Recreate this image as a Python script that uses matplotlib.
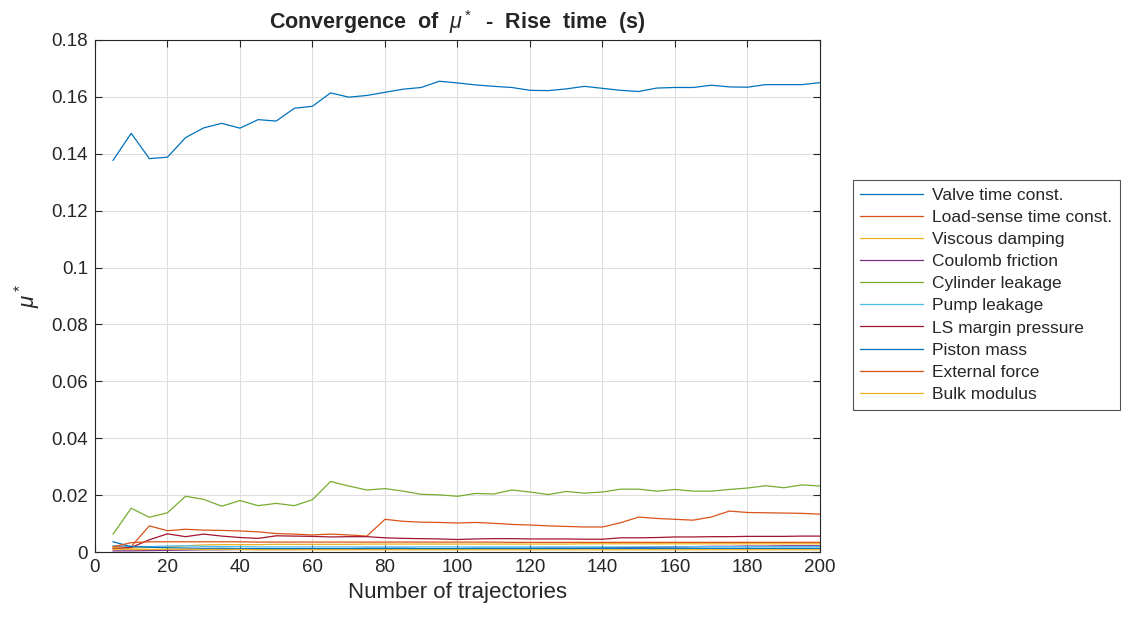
import matplotlib
matplotlib.use("Agg")
import matplotlib.pyplot as plt

plt.rcParams['font.family'] = ['Liberation Sans', 'DejaVu Sans']
plt.rcParams['mathtext.fontset'] = 'custom'
plt.rcParams['mathtext.it'] = 'Liberation Sans:italic'
plt.rcParams['mathtext.rm'] = 'Liberation Sans'
plt.rcParams['mathtext.bf'] = 'Liberation Sans:bold'

n_traj = list(range(5, 205, 5))

valve_time_const = [0.1377, 0.1472, 0.1383, 0.1388, 0.1457, 0.1491, 0.1507, 0.1490, 0.1520, 0.1515,
                    0.1560, 0.1567, 0.1614, 0.1599, 0.1605, 0.1616, 0.1627, 0.1633, 0.1655, 0.1649,
                    0.1642, 0.1637, 0.1633, 0.1623, 0.1622, 0.1628, 0.1637, 0.1630, 0.1623, 0.1619,
                    0.1631, 0.1633, 0.1633, 0.1641, 0.1635, 0.1634, 0.1643, 0.1643, 0.1643, 0.1650]
load_sense_time_const = [0.0021, 0.0019, 0.0092, 0.0075, 0.0080, 0.0077, 0.0076, 0.0074, 0.0071, 0.0065,
                         0.0063, 0.0060, 0.0063, 0.0060, 0.0056, 0.0115, 0.0108, 0.0105, 0.0104, 0.0102,
                         0.0104, 0.0101, 0.0097, 0.0095, 0.0092, 0.0090, 0.0088, 0.0088, 0.0103, 0.0123,
                         0.0118, 0.0115, 0.0112, 0.0123, 0.0144, 0.0139, 0.0138, 0.0137, 0.0136, 0.0133]
viscous_damping = [0.0015, 0.0014, 0.0016, 0.0018, 0.0022, 0.0025, 0.0026, 0.0026, 0.0026, 0.0027,
                   0.0027, 0.0027, 0.0027, 0.0027, 0.0028, 0.0028, 0.0028, 0.0028, 0.0028, 0.0028,
                   0.0028, 0.0028, 0.0028, 0.0028, 0.0028, 0.0028, 0.0029, 0.0029, 0.0029, 0.0029,
                   0.0029, 0.0029, 0.0029, 0.0029, 0.0029, 0.0029, 0.0029, 0.0029, 0.0029, 0.0029]
coulomb_friction = [0.0004, 0.0004, 0.0005, 0.0006, 0.0007, 0.0008, 0.0008, 0.0009, 0.0009, 0.0009,
                    0.0009, 0.0010, 0.0010, 0.0010, 0.0010, 0.0010, 0.0011, 0.0011, 0.0011, 0.0011,
                    0.0012, 0.0012, 0.0012, 0.0012, 0.0013, 0.0013, 0.0013, 0.0014, 0.0015, 0.0016,
                    0.0017, 0.0018, 0.0019, 0.0020, 0.0020, 0.0021, 0.0021, 0.0022, 0.0022, 0.0022]
cylinder_leakage = [0.0063, 0.0154, 0.0122, 0.0138, 0.0196, 0.0185, 0.0161, 0.0181, 0.0163, 0.0171,
                    0.0163, 0.0184, 0.0248, 0.0232, 0.0218, 0.0223, 0.0214, 0.0203, 0.0201, 0.0196,
                    0.0206, 0.0204, 0.0218, 0.0211, 0.0202, 0.0213, 0.0207, 0.0211, 0.0221, 0.0221,
                    0.0214, 0.0220, 0.0214, 0.0214, 0.0220, 0.0225, 0.0233, 0.0226, 0.0236, 0.0232]
pump_leakage = [0.0022, 0.0020, 0.0019, 0.0021, 0.0022, 0.0020, 0.0019, 0.0019, 0.0018, 0.0018,
                0.0018, 0.0018, 0.0018, 0.0018, 0.0018, 0.0018, 0.0018, 0.0018, 0.0018, 0.0018,
                0.0018, 0.0018, 0.0018, 0.0018, 0.0018, 0.0018, 0.0018, 0.0018, 0.0018, 0.0018,
                0.0018, 0.0018, 0.0019, 0.0019, 0.0019, 0.0019, 0.0019, 0.0019, 0.0019, 0.0019]
ls_margin_pressure = [0.0012, 0.0016, 0.0043, 0.0064, 0.0054, 0.0063, 0.0056, 0.0051, 0.0048, 0.0057,
                      0.0056, 0.0055, 0.0053, 0.0054, 0.0054, 0.0050, 0.0048, 0.0047, 0.0046, 0.0044,
                      0.0046, 0.0047, 0.0047, 0.0046, 0.0046, 0.0046, 0.0045, 0.0045, 0.0050, 0.0050,
                      0.0051, 0.0053, 0.0053, 0.0054, 0.0054, 0.0055, 0.0055, 0.0055, 0.0056, 0.0056]
piston_mass = [0.0036, 0.0019, 0.0017, 0.0015, 0.0014, 0.0013, 0.0013, 0.0012, 0.0012, 0.0012,
               0.0012, 0.0012, 0.0012, 0.0012, 0.0013, 0.0013, 0.0013, 0.0012, 0.0012, 0.0012,
               0.0013, 0.0013, 0.0013, 0.0013, 0.0013, 0.0013, 0.0013, 0.0013, 0.0013, 0.0013,
               0.0013, 0.0013, 0.0013, 0.0013, 0.0013, 0.0013, 0.0013, 0.0013, 0.0013, 0.0013]
external_force = [0.0018, 0.0033, 0.0036, 0.0036, 0.0036, 0.0036, 0.0036, 0.0036, 0.0035, 0.0035,
                  0.0035, 0.0035, 0.0035, 0.0035, 0.0035, 0.0035, 0.0035, 0.0035, 0.0035, 0.0035,
                  0.0035, 0.0035, 0.0034, 0.0034, 0.0034, 0.0034, 0.0034, 0.0034, 0.0034, 0.0034,
                  0.0034, 0.0034, 0.0034, 0.0034, 0.0034, 0.0034, 0.0034, 0.0034, 0.0034, 0.0034]
bulk_modulus = [0.0010, 0.0009, 0.0009, 0.0010, 0.0010, 0.0009, 0.0009, 0.0009, 0.0008, 0.0008,
                0.0008, 0.0008, 0.0008, 0.0008, 0.0008, 0.0008, 0.0008, 0.0008, 0.0008, 0.0008,
                0.0008, 0.0008, 0.0008, 0.0008, 0.0008, 0.0008, 0.0008, 0.0008, 0.0008, 0.0008,
                0.0008, 0.0008, 0.0008, 0.0008, 0.0008, 0.0008, 0.0008, 0.0008, 0.0008, 0.0008]

labels = ["Valve time const.", "Load-sense time const.", "Viscous damping", "Coulomb friction",
          "Cylinder leakage", "Pump leakage", "LS margin pressure", "Piston mass",
          "External force", "Bulk modulus"]
series = [valve_time_const, load_sense_time_const, viscous_damping, coulomb_friction,
          cylinder_leakage, pump_leakage, ls_margin_pressure, piston_mass,
          external_force, bulk_modulus]
colors = ["#0072BD", "#D95319", "#EDB120", "#7E2F8E", "#77AC30", "#4DBEEE", "#A2142F",
          "#0072BD", "#D95319", "#EDB120"]

fig = plt.figure(figsize=(11.29, 6.17), dpi=100)
ax = fig.add_axes([0.0841, 0.1053, 0.6422, 0.8299])

for y, lab, c in zip(series, labels, colors):
    ax.plot(n_traj, y, color=c, lw=0.9, label=lab)

ax.set_xlim(0, 200)
ax.set_ylim(0, 0.18)
ax.set_xticks(range(0, 201, 20))
ax.set_yticks([0, 0.02, 0.04, 0.06, 0.08, 0.1, 0.12, 0.14, 0.16, 0.18])
ax.set_yticklabels(["0", "0.02", "0.04", "0.06", "0.08", "0.1", "0.12", "0.14", "0.16", "0.18"])
ax.grid(True, color="#dfdfdf", lw=0.8)
ax.set_axisbelow(True)
ax.tick_params(direction="in", top=True, right=True, length=5, width=0.8,
               colors="#262626", labelsize=13.5, labelcolor="#262626", pad=5)
for s in ax.spines.values():
    s.set_color("#262626")
    s.set_linewidth(0.8)

ax.set_xlabel("Number of trajectories", fontsize=16, color="#262626", labelpad=4)
ax.set_ylabel(r"$\mu^*$", fontsize=16, color="#262626", labelpad=6)
ax.set_title(r"Convergence  of  $\mu^*$  -  Rise  time  (s)", fontsize=15.5,
             fontweight="bold", color="#262626", pad=8)

leg = ax.legend(loc="upper left", bbox_to_anchor=(1.045, 0.7266), fontsize=12.5,
                frameon=True, fancybox=False, edgecolor="#262626", borderpad=0.45,
                labelspacing=0.4, handlelength=3.6, handletextpad=0.5, borderaxespad=0)
leg.get_frame().set_linewidth(0.8)
for t in leg.get_texts():
    t.set_color("#262626")

fig.savefig("out.png", dpi=100)
